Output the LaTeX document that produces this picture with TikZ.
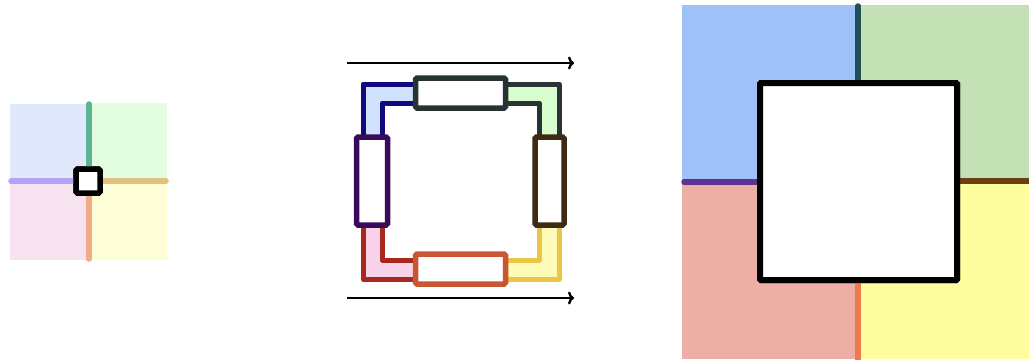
\documentclass[tikz,border=0pt]{standalone}
\usetikzlibrary{arrows.meta}

% quadrant and line colours
\definecolor{sqA}{HTML}{DFE9FB}
\definecolor{sqB}{HTML}{E3FDE0}
\definecolor{sqC}{HTML}{F7E2EF}
\definecolor{sqD}{HTML}{FDFED6}
\definecolor{lnA}{HTML}{5BB595}
\definecolor{lnB}{HTML}{B3A4F8}
\definecolor{lnC}{HTML}{E0C080}
\definecolor{lnD}{HTML}{F0AB88}

\definecolor{bandTLf}{HTML}{D0E1FB}
\definecolor{bandTLd}{HTML}{11097E}
\definecolor{bandTRf}{HTML}{D8FED0}
\definecolor{bandTRd}{HTML}{2A3333}
\definecolor{bandBLf}{HTML}{F8D2E8}
\definecolor{bandBLd}{HTML}{A82820}
\definecolor{bandBRf}{HTML}{FEFBB8}
\definecolor{bandBRd}{HTML}{EBC545}
\definecolor{boxTop}{HTML}{273333}
\definecolor{boxLeft}{HTML}{3A0A5A}
\definecolor{boxRight}{HTML}{3F2A12}
\definecolor{boxBottom}{HTML}{C85533}

\definecolor{bigA}{HTML}{9EC2F7}
\definecolor{bigB}{HTML}{C4E0B5}
\definecolor{bigC}{HTML}{ECAEA5}
\definecolor{bigD}{HTML}{FEFE9F}
\definecolor{bigLA}{HTML}{1F4F57}
\definecolor{bigLB}{HTML}{5E3290}
\definecolor{bigLC}{HTML}{6B3F10}
\definecolor{bigLD}{HTML}{EE7A4E}

\tikzset{
  seam/.style={line width=5.5pt, line cap=round},
  blockbox/.style={draw, fill=white, line width=5.5pt, rounded corners=1.5pt,
    inner sep=0pt, outer sep=0pt},
  bandedge/.style={line width=5pt, line join=round},
  flow/.style={line width=2.4pt, -{To[length=6pt,width=13pt,line width=2.4pt]}},
}

\begin{document}
\begin{tikzpicture}[x=1pt,y=-1pt]
\useasboundingbox (0,0) rectangle (1029,360);

% ---------- small cross ----------
\fill[sqA] (10,104) rectangle (89,181);
\fill[sqB] (89,103) rectangle (167,181);
\fill[sqC] (10,181) rectangle (89,260);
\fill[sqD] (89,181) rectangle (167,260);
\coordinate (sN) at (89,104);
\coordinate (sW) at (11,181);
\coordinate (sE) at (166,181);
\coordinate (sS) at (89,259);
\node[blockbox, minimum width=24pt, minimum height=24pt] (sc) at (88,181) {};
\draw[seam, lnA] (sN) -- (sc.north -| sN);
\draw[seam, lnB] (sW) -- (sc.west |- sW);
\draw[seam, lnC] (sE) -- (sc.east |- sE);
\draw[seam, lnD] (sS) -- (sc.south -| sS);
\node[blockbox, minimum width=24pt, minimum height=24pt] at (88,181) {};

% ---------- ring of blocks ----------
\coordinate (a1) at (347,63);
\coordinate (a2) at (574,63);
\coordinate (b1) at (347,298);
\coordinate (b2) at (574,298);
\draw[flow] (a1) -- (a2);
\draw[flow] (b1) -- (b2);

% corner bands
\fill[bandTLf] (363,135) -- (363,84) -- (415,84) -- (415,103) -- (382,103) -- (382,135) -- cycle;
\draw[bandedge, bandTLd] (363,135) -- (363,84) -- (415,84);
\draw[bandedge, bandTLd] (382,135) -- (382,103) -- (415,103);

\fill[bandTRf] (559,135) -- (559,84) -- (506,84) -- (506,103) -- (539,103) -- (539,135) -- cycle;
\draw[bandedge, bandTRd] (559,135) -- (559,84) -- (506,84);
\draw[bandedge, bandTRd] (539,135) -- (539,103) -- (506,103);

\fill[bandBLf] (363,227) -- (363,279) -- (415,279) -- (415,260) -- (382,260) -- (382,227) -- cycle;
\draw[bandedge, bandBLd] (363,227) -- (363,279) -- (415,279);
\draw[bandedge, bandBLd] (382,227) -- (382,260) -- (415,260);

\fill[bandBRf] (559,227) -- (559,279) -- (506,279) -- (506,260) -- (539,260) -- (539,227) -- cycle;
\draw[bandedge, bandBRd] (559,227) -- (559,279) -- (506,279);
\draw[bandedge, bandBRd] (539,227) -- (539,260) -- (506,260);

% blocks
\node[blockbox, draw=boxTop, minimum width=90pt, minimum height=30pt] (bt) at (460.5,93) {};
\node[blockbox, draw=boxBottom, minimum width=90pt, minimum height=30pt] (bb) at (460.5,269) {};
\node[blockbox, draw=boxLeft, minimum width=31pt, minimum height=88pt] (bl) at (372,181) {};
\node[blockbox, draw=boxRight, minimum width=29pt, minimum height=88pt] (br) at (549.5,181) {};

% ---------- large cross ----------
\fill[bigA] (682,5) rectangle (858,181);
\fill[bigB] (858,5) rectangle (1029,181);
\fill[bigC] (682,181) rectangle (858,359);
\fill[bigD] (858,181) rectangle (1029,359);
\coordinate (LN) at (858,6);
\coordinate (LW) at (684,182);
\coordinate (LE) at (1029,181);
\coordinate (LS) at (858,360);
\node[blockbox, line width=6pt, rounded corners=1pt, minimum width=197pt, minimum height=197pt] (lc) at (858.5,181.5) {};
\draw[line width=5.5pt, line cap=round, bigLA] (LN) -- (lc.north -| LN);
\draw[line width=5.5pt, line cap=round, bigLB] (LW) -- (lc.west |- LW);
\draw[line width=5.5pt, bigLC] (LE) -- (lc.east |- LE);
\draw[line width=5.5pt, bigLD] (LS) -- (lc.south -| LS);
\node[blockbox, line width=6pt, rounded corners=1pt, minimum width=197pt, minimum height=197pt] at (858.5,181.5) {};
\end{tikzpicture}
\end{document}
